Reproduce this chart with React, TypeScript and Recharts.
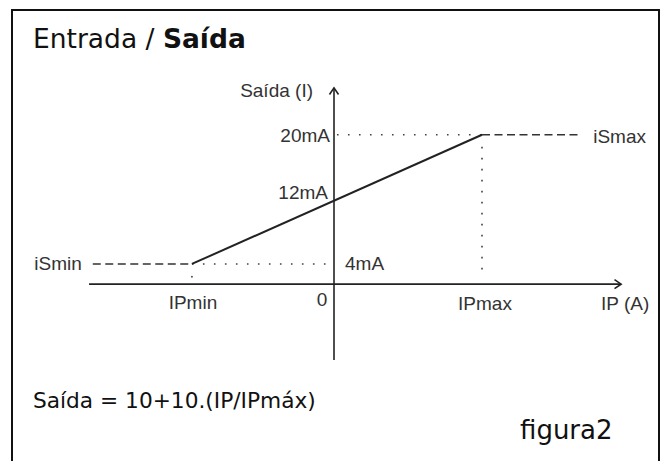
import React from "react";
import { LineChart, Line, XAxis, YAxis, ReferenceLine, ReferenceDot } from "recharts";

// schematic values: IP in units of IPmax, output in mA
const IP_MIN = -0.96;
const IP_MAX = 1;
const I_MIN = 4;
const I_MAX = 20;
const AXIS_LEVEL = 1.5; // where the IP axis is drawn

const ramp = [
  { x: IP_MIN, y: I_MIN },
  { x: IP_MAX, y: I_MAX },
];
const iSminDash = [
  { x: -1.63, y: I_MIN },
  { x: IP_MIN, y: I_MIN },
];
const iSmaxDash = [
  { x: IP_MAX, y: I_MAX },
  { x: 1.65, y: I_MAX },
];
const guide4 = [
  { x: IP_MIN, y: I_MIN },
  { x: -0.03, y: I_MIN },
];
const guide20 = [
  { x: 0.02, y: I_MAX },
  { x: IP_MAX, y: I_MAX },
];
const guideIPmax = [
  { x: IP_MAX, y: 18.5 },
  { x: IP_MAX, y: 3.0 },
];
const ipAxis = [
  { x: -1.655, y: AXIS_LEVEL },
  { x: 1.94, y: AXIS_LEVEL },
];
const outAxis = [
  { x: 0, y: -7.9 },
  { x: 0, y: 25.8 },
];

// axis annotations, anchored in data coordinates
const tags = [
  { key: "out", text: "Saída (I)", x: 0, y: 25.8 },
  { key: "i20", text: "20mA", x: 0, y: I_MAX },
  { key: "i12", text: "12mA", x: 0, y: 12 },
  { key: "i4", text: "4mA", x: 0, y: I_MIN },
  { key: "ismin", text: "iSmin", x: -1.63, y: I_MIN },
  { key: "ismax", text: "iSmax", x: 1.65, y: I_MAX },
  { key: "ipmin", text: "IPmin", x: IP_MIN, y: AXIS_LEVEL },
  { key: "zero", text: "0", x: 0, y: AXIS_LEVEL },
  { key: "ipmax", text: "IPmax", x: IP_MAX, y: AXIS_LEVEL },
  { key: "ip", text: "IP (A)", x: 1.94, y: AXIS_LEVEL },
];

const tagOffsets: Record<string, [number, number, "start" | "middle" | "end"]> = {
  out: [-21, 3, "end"],
  i20: [-4, 1, "end"],
  i12: [-6, -7, "end"],
  i4: [11, 0, "start"],
  ismin: [-11, 0, "end"],
  ismax: [15, 2, "start"],
  ipmin: [1, 18, "middle"],
  zero: [-12, 15, "middle"],
  ipmax: [3, 19, "middle"],
  ip: [4, 19, "middle"],
};

const INK = "#222";
const LABEL_FONT = "'Liberation Sans', Arial, sans-serif";
const TEXT_FONT = "'DejaVu Sans', Verdana, sans-serif";

const ArrowLine = (props: any) => {
  const { x1, y1, x2, y2 } = props;
  const ang = Math.atan2(y2 - y1, x2 - x1);
  const len = 8;
  const spread = 0.6;
  const ax = x2 - len * Math.cos(ang - spread);
  const ay = y2 - len * Math.sin(ang - spread);
  const bx = x2 - len * Math.cos(ang + spread);
  const by = y2 - len * Math.sin(ang + spread);
  return (
    <g>
      <line x1={x1} y1={y1} x2={x2} y2={y2} stroke={INK} strokeWidth={1.6} />
      <polyline
        points={`${ax},${ay} ${x2},${y2} ${bx},${by}`}
        fill="none"
        stroke={INK}
        strokeWidth={1.6}
      />
    </g>
  );
};

const tagLabel = (key: string, text: string) => {
  const [dx, dy, anchor] = tagOffsets[key];
  return {
    content: ({ viewBox }: any) => (
      <text
        x={viewBox.x + dx}
        y={viewBox.y + dy}
        textAnchor={anchor}
        dominantBaseline="central"
        fontFamily={LABEL_FONT}
        fontSize={19}
        fill="#333"
      >
        {text}
      </text>
    ),
  };
};

export default function App() {
  return (
    <div
      style={{
        position: "absolute",
        left: 0,
        top: 0,
        width: 663,
        height: 461,
        overflow: "hidden",
        background: "#fff",
      }}
    >
      <div
        style={{
          position: "absolute",
          left: 11,
          top: 9,
          width: 645,
          height: 480,
          border: "2px solid #111",
        }}
      />
      <div
        style={{
          position: "absolute",
          left: 33,
          top: 38,
          transform: "translateY(-50%)",
          fontFamily: TEXT_FONT,
          fontSize: 26.5,
          color: "#111",
          whiteSpace: "nowrap",
        }}
      >
        Entrada / <b>Saída</b>
      </div>
      <div style={{ position: "absolute", left: 0, top: 0 }}>
        <LineChart width={663} height={461} margin={{ top: 54, right: 33, bottom: 84, left: 38 }}>
          <XAxis type="number" dataKey="x" domain={[-2, 2]} hide allowDataOverflow />
          <YAxis type="number" dataKey="y" domain={[-10, 30]} hide allowDataOverflow />
          <ReferenceLine
            segment={ipAxis}
            shape={(p: any) => <ArrowLine {...p} />}
            ifOverflow="visible"
          />
          <ReferenceLine
            segment={outAxis}
            shape={(p: any) => <ArrowLine {...p} />}
            ifOverflow="visible"
          />
          <Line data={guide4} dataKey="y" stroke="#444" strokeWidth={1.6} strokeDasharray="1.6 9.4" dot={false} isAnimationActive={false} />
          <Line data={guide20} dataKey="y" stroke="#444" strokeWidth={1.6} strokeDasharray="1.6 9.4" dot={false} isAnimationActive={false} />
          <Line data={guideIPmax} dataKey="y" stroke="#444" strokeWidth={1.6} strokeDasharray="1.6 9.4" dot={false} isAnimationActive={false} />
          <Line data={iSminDash} dataKey="y" stroke="#333" strokeWidth={1.6} strokeDasharray="8 4.5" dot={false} isAnimationActive={false} />
          <Line data={iSmaxDash} dataKey="y" stroke="#333" strokeWidth={1.6} strokeDasharray="8 4.5" dot={false} isAnimationActive={false} />
          <Line data={ramp} dataKey="y" stroke={INK} strokeWidth={2} dot={false} isAnimationActive={false} />
          <ReferenceDot x={IP_MIN} y={2.4} r={1} fill="#555" stroke="none" ifOverflow="visible" />
          {tags.map((t) => (
            <ReferenceDot
              key={t.key}
              x={t.x}
              y={t.y}
              r={0}
              fill="none"
              stroke="none"
              ifOverflow="visible"
              label={tagLabel(t.key, t.text)}
            />
          ))}
        </LineChart>
      </div>
      <div
        style={{
          position: "absolute",
          left: 33,
          top: 400,
          transform: "translateY(-50%)",
          fontFamily: TEXT_FONT,
          fontSize: 21.7,
          color: "#111",
          whiteSpace: "nowrap",
        }}
      >
        Saída = 10+10.(IP/IPmáx)
      </div>
      <div
        style={{
          position: "absolute",
          left: 520,
          top: 430,
          transform: "translateY(-50%)",
          fontFamily: TEXT_FONT,
          fontSize: 26,
          color: "#111",
          whiteSpace: "nowrap",
        }}
      >
        figura2
      </div>
    </div>
  );
}
